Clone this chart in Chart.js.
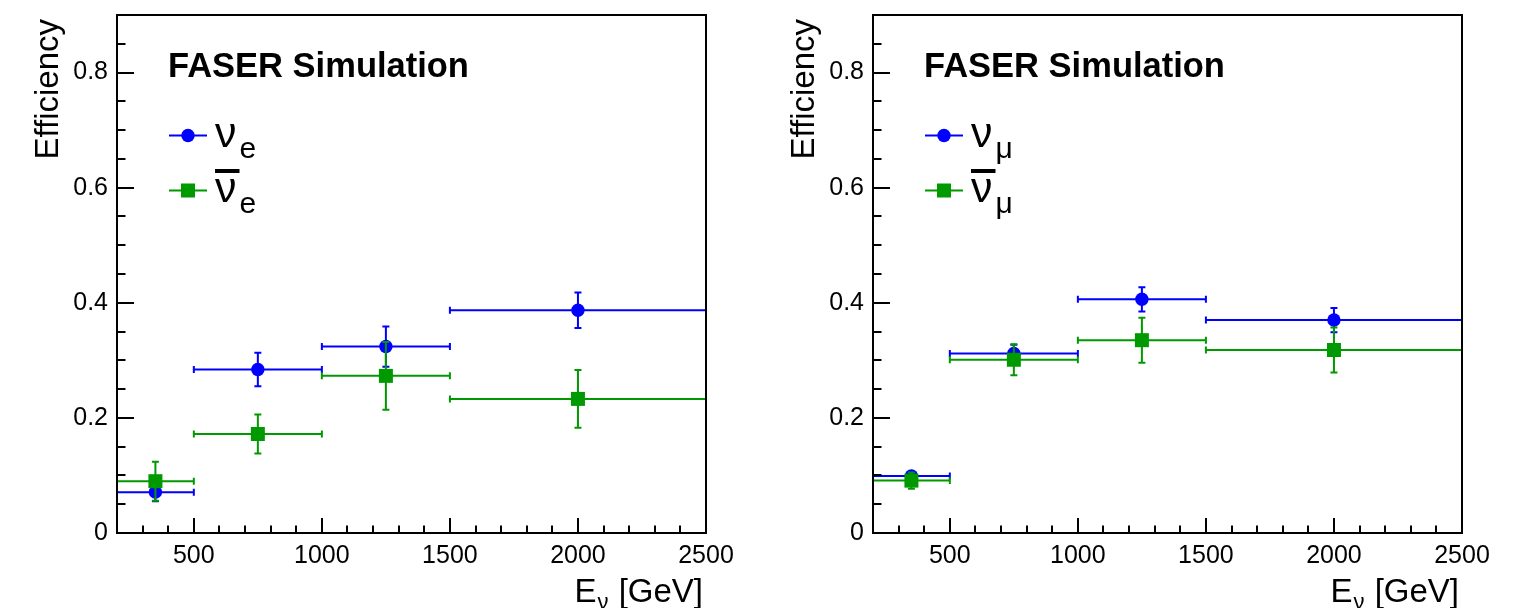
<!DOCTYPE html>
<html>
<head>
<meta charset="utf-8">
<script src="https://cdn.jsdelivr.net/npm/chart.js@4/dist/chart.umd.min.js"></script>
<style>
  html, body { margin: 0; padding: 0; background: #ffffff; }
  #wrap { position: relative; width: 1528px; height: 608px; overflow: hidden; }
  .pane { position: absolute; top: 0; width: 764px; height: 608px; }
  canvas { display: block; }
</style>
</head>
<body>
<div id="wrap">
  <div class="pane" style="left:0"><canvas id="nueChart" width="764" height="608"></canvas></div>
  <div class="pane" style="left:764px"><canvas id="numuChart" width="764" height="608"></canvas></div>
</div>
<script>
// Neutrino energy bins [GeV]
const binLow    = [200, 500, 1000, 1500];
const binHigh   = [500, 1000, 1500, 2500];
const binCenter = [350, 750, 1250, 2000];

// Electron neutrino efficiencies and errors
const nueEff     = [0.071, 0.284, 0.324, 0.387];
const nueErr     = [0.016, 0.029, 0.035, 0.031];
const nuebarEff  = [0.090, 0.172, 0.273, 0.233];
const nuebarErr  = [0.034, 0.034, 0.059, 0.050];

// Muon neutrino efficiencies and errors
const numuEff    = [0.099, 0.312, 0.406, 0.370];
const numuErr    = [0.008, 0.015, 0.021, 0.021];
const numubarEff = [0.091, 0.301, 0.335, 0.318];
const numubarErr = [0.014, 0.027, 0.039, 0.039];

// Axis ticks
const xTicks = [500, 1000, 1500, 2000, 2500];
const xTickLabels = ['500', '1000', '1500', '2000', '2500'];
const yTicks = [0, 0.2, 0.4, 0.6, 0.8];
const yTickLabels = ['0', '0.2', '0.4', '0.6', '0.8'];
const xMinorStep = 100;
const yMinorStep = 0.05;

const BLUE = '#0000ff';
const GREEN = '#009900';
const SANS = "'Liberation Sans', Arial, Helvetica, sans-serif";

Chart.defaults.font.family = SANS;
Chart.defaults.color = '#000000';

function points(values) {
  return values.map((v, i) => ({ x: binCenter[i], y: v }));
}

// Error bars (bin width horizontally, efficiency error vertically), frame,
// inward ROOT-style ticks, axis titles, label and legend.
const rootStyle = {
  id: 'rootStyle',
  beforeDatasetDraw(chart, args) {
    const ds = chart.data.datasets[args.index];
    const xs = chart.scales.x, ys = chart.scales.y;
    const a = chart.chartArea;
    const ctx = chart.ctx;
    ctx.save();
    ctx.beginPath();
    ctx.rect(a.left, a.top, a.right - a.left, a.bottom - a.top);
    ctx.clip();
    ctx.strokeStyle = ds.borderColor;
    ctx.lineWidth = 2;
    const cap = 3.5;
    ds.data.forEach((p, i) => {
      const px = xs.getPixelForValue(p.x);
      const py = ys.getPixelForValue(p.y);
      const xl = xs.getPixelForValue(ds.xLow[i]);
      const xh = xs.getPixelForValue(ds.xHigh[i]);
      const yl = ys.getPixelForValue(p.y - ds.yErr[i]);
      const yh = ys.getPixelForValue(p.y + ds.yErr[i]);
      ctx.beginPath();
      ctx.moveTo(xl, py); ctx.lineTo(xh, py);
      ctx.moveTo(xl, py - cap); ctx.lineTo(xl, py + cap);
      ctx.moveTo(xh, py - cap); ctx.lineTo(xh, py + cap);
      ctx.moveTo(px, yl); ctx.lineTo(px, yh);
      ctx.moveTo(px - cap, yl); ctx.lineTo(px + cap, yl);
      ctx.moveTo(px - cap, yh); ctx.lineTo(px + cap, yh);
      ctx.stroke();
    });
    ctx.restore();
  },
  afterDraw(chart, args, opts) {
    const ctx = chart.ctx;
    const a = chart.chartArea;
    const xs = chart.scales.x, ys = chart.scales.y;
    ctx.save();

    // frame
    ctx.strokeStyle = '#000000';
    ctx.lineWidth = 2;
    ctx.strokeRect(a.left, a.top, a.right - a.left, a.bottom - a.top);

    // inward ticks
    ctx.beginPath();
    for (let v = xs.min; v <= xs.max + 1e-6; v += xMinorStep) {
      const px = Math.round(xs.getPixelForValue(v));
      const major = xTicks.some(t => Math.abs(t - v) < 1e-6);
      const len = major ? 15 : 7.5;
      ctx.moveTo(px, a.bottom);
      ctx.lineTo(px, a.bottom - len);
    }
    for (let v = ys.min; v <= ys.max + 1e-9; v += yMinorStep) {
      const py = Math.round(ys.getPixelForValue(v));
      const major = yTicks.some(t => Math.abs(t - v) < 1e-9);
      const len = major ? 17 : 8.5;
      ctx.moveTo(a.left, py);
      ctx.lineTo(a.left + len, py);
    }
    ctx.stroke();

    ctx.fillStyle = '#000000';

    // y-axis title
    ctx.save();
    ctx.translate(a.left - 59, a.top + 4);
    ctx.rotate(-Math.PI / 2);
    ctx.font = '33px ' + SANS;
    ctx.textAlign = 'right';
    ctx.textBaseline = 'alphabetic';
    ctx.fillText('Efficiency', 0, 0);
    ctx.restore();

    // x-axis title: E_nu [GeV]
    const bigFont = '33px ' + SANS;
    const subFont = '22px ' + SANS;
    ctx.textAlign = 'left';
    ctx.textBaseline = 'alphabetic';
    ctx.font = bigFont;
    const wE = ctx.measureText('E').width;
    const wRest = ctx.measureText(' [GeV]').width;
    ctx.font = subFont;
    const wNu = ctx.measureText('\u03bd').width + 2;
    const xStart = a.right - 3 - (wE + wNu + wRest);
    const base = 602;
    ctx.font = bigFont;
    ctx.fillText('E', xStart, base);
    ctx.font = subFont;
    ctx.fillText('\u03bd', xStart + wE + 1, base + 7);
    ctx.font = bigFont;
    ctx.fillText(' [GeV]', xStart + wE + wNu, base);

    // label
    ctx.font = 'bold 34.5px ' + SANS;
    ctx.fillText('FASER Simulation', a.left + 51, a.top + 62);

    // legend
    const rows = [
      { color: BLUE, style: 'circle', bar: false, y: a.top + 120.5 },
      { color: GREEN, style: 'rect', bar: true, y: a.top + 175.5 }
    ];
    rows.forEach(r => {
      ctx.strokeStyle = r.color;
      ctx.fillStyle = r.color;
      ctx.lineWidth = 2;
      ctx.beginPath();
      ctx.moveTo(a.left + 52, r.y);
      ctx.lineTo(a.left + 90, r.y);
      ctx.stroke();
      const mx = a.left + 71;
      if (r.style === 'circle') {
        ctx.beginPath();
        ctx.arc(mx, r.y, 6.7, 0, Math.PI * 2);
        ctx.fill();
      } else {
        ctx.fillRect(mx - 7, r.y - 7, 14, 14);
      }
      ctx.fillStyle = '#000000';
      const tx = a.left + 98;
      const tb = r.y + 11.5;
      ctx.font = '43px ' + SANS;
      ctx.fillText('\u03bd', tx, tb);
      const w = ctx.measureText('\u03bd').width;
      if (r.bar) ctx.fillRect(tx, r.y - 21.5, w + 3, 4);
      ctx.font = '30px ' + SANS;
      ctx.fillText(opts.flavour, tx + w + 3, tb + 11);
    });

    ctx.restore();
  }
};

function makeChart(canvasId, yAxisWidth, rightPad, flavour, nuVals, nuErrs, barVals, barErrs) {
  return new Chart(document.getElementById(canvasId), {
    type: 'scatter',
    data: {
      datasets: [
        {
          label: '\u03bd' + flavour,
          data: points(nuVals),
          xLow: binLow, xHigh: binHigh, yErr: nuErrs,
          borderColor: BLUE, backgroundColor: BLUE,
          pointStyle: 'circle', pointRadius: 6.7, pointHoverRadius: 6.7,
          pointBorderWidth: 0, order: 2
        },
        {
          label: '\u03bd\u0304' + flavour,
          data: points(barVals),
          xLow: binLow, xHigh: binHigh, yErr: barErrs,
          borderColor: GREEN, backgroundColor: GREEN,
          pointStyle: 'rect', pointRadius: 9.9, pointHoverRadius: 9.9,
          pointBorderWidth: 0, order: 1
        }
      ]
    },
    options: {
      responsive: false,
      animation: false,
      devicePixelRatio: 1,
      layout: { padding: { left: 0, right: rightPad, top: 15, bottom: 0 } },
      plugins: {
        legend: { display: false },
        tooltip: { enabled: false },
        rootStyle: { flavour: flavour }
      },
      scales: {
        x: {
          type: 'linear', min: 200, max: 2500,
          grid: { display: false, drawTicks: false }, border: { display: false },
          afterBuildTicks: s => { s.ticks = xTicks.map(v => ({ value: v })); },
          afterFit: s => { s.height = 75; s.paddingLeft = 0; s.paddingRight = 0; },
          ticks: {
            font: { size: 25 }, color: '#000000', padding: 8, maxRotation: 0,
            callback: (v, i) => xTickLabels[i]
          }
        },
        y: {
          type: 'linear', min: 0, max: 0.9,
          grid: { display: false, drawTicks: false }, border: { display: false },
          afterBuildTicks: s => { s.ticks = yTicks.map(v => ({ value: v })); },
          afterFit: s => { s.width = yAxisWidth; s.paddingTop = 0; s.paddingBottom = 0; },
          ticks: {
            font: { size: 25 }, color: '#000000', padding: 9,
            callback: (v, i) => yTickLabels[i]
          }
        }
      }
    },
    plugins: [rootStyle]
  });
}

makeChart('nueChart', 117, 58, 'e', nueEff, nueErr, nuebarEff, nuebarErr);
makeChart('numuChart', 109, 66, '\u03bc', numuEff, numuErr, numubarEff, numubarErr);
</script>
</body>
</html>
